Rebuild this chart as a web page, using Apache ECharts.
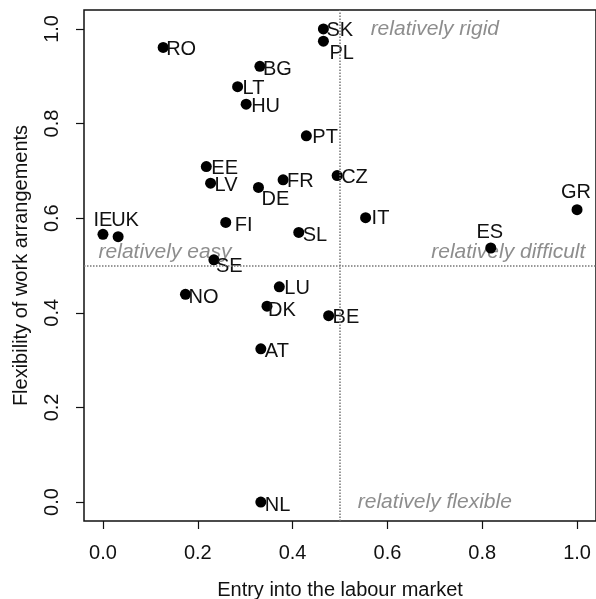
<!DOCTYPE html>
<html>
<head>
<meta charset="utf-8">
<script src="https://cdn.jsdelivr.net/npm/echarts@6/dist/echarts.min.js"></script>
<style>
html,body{margin:0;padding:0;background:#fff;}
#chart{width:596px;height:599px;}
</style>
</head>
<body>
<div id="chart"></div>
<script>
// ---- data ----
const countries = ['SK','PL','RO','BG','LT','HU','PT','EE','LV','DE','FR','CZ','IT','IE','UK','FI','SL','SE','GR','ES','LU','NO','DK','BE','AT','NL'];
const entryValues = [0.465,0.465,0.127,0.331,0.284,0.302,0.429,0.218,0.227,0.328,0.380,0.494,0.554,0.0,0.032,0.259,0.413,0.234,1.0,0.818,0.372,0.174,0.346,0.476,0.333,0.333];
const flexValues  = [1.0,0.974,0.961,0.921,0.878,0.841,0.774,0.709,0.674,0.665,0.681,0.690,0.601,0.566,0.561,0.591,0.570,0.512,0.618,0.537,0.455,0.439,0.414,0.394,0.324,0.0];
const tickValues = [0.0,0.2,0.4,0.6,0.8,1.0];
const quadrantText = ['relatively rigid','relatively easy','relatively difficult','relatively flexible'];
const quadrantX = [0.70,0.131,0.855,0.70];
const quadrantY = [1.0,0.529,0.529,0.0];
const threshold = 0.5;

// ---- label layout (pixel offsets of label from dot centre) ----
const labelPlacement = {
  SK:[3,2,'left'], PL:[6,12,'left'], RO:[3,2,'left'], BG:[3,3,'left'], LT:[5,2,'left'],
  HU:[5,2,'left'], PT:[6,2,'left'], EE:[5,2,'left'], LV:[4,2,'left'], DE:[3,12,'left'],
  FR:[4,2,'left'], CZ:[4,2,'left'], IT:[6,1,'left'], IE:[0,-14,'center'], UK:[-7,-16,'left'],
  FI:[9,3,'left'], SL:[4,3,'left'], SE:[2,7,'left'], GR:[-1,-17,'center'], ES:[-1,-16,'center'],
  LU:[5,2,'left'], NO:[3,3,'left'], DK:[1,4,'left'], BE:[4,2,'left'], AT:[4,3,'left'], NL:[4,3,'left']
};

const FONT = '"Liberation Sans", Arial, Helvetica, sans-serif';
const SYM = 11;

const pointData = countries.map((c, i) => {
  const p = labelPlacement[c];
  return {
    name: c,
    value: [entryValues[i], flexValues[i]],
    label: {
      position: [SYM/2 + p[0], SYM/2 + p[1]],
      align: p[2],
      verticalAlign: 'middle'
    }
  };
});

const quadData = quadrantText.map((t, i) => ({ name: t, value: [quadrantX[i], quadrantY[i]] }));

const chart = echarts.init(document.getElementById('chart'), null, {renderer: 'canvas'});
chart.setOption({
  animation: false,
  backgroundColor: '#fff',
  grid: {
    left: 84, top: 10, width: 512, height: 511,
    containLabel: false, outerBoundsMode: 'none',
    show: true, borderColor: '#111', borderWidth: 1.5, backgroundColor: 'transparent'
  },
  xAxis: {
    type: 'value', min: -0.04, max: 1.04,
    name: 'Entry into the labour market',
    nameLocation: 'middle', nameGap: 59,
    nameTextStyle: { fontFamily: FONT, fontSize: 20, color: '#111' },
    axisLine: { show: false, onZero: false },
    axisTick: { show: true, inside: false, length: 8, customValues: tickValues, lineStyle: { color: '#111', width: 1.2 } },
    axisLabel: { customValues: tickValues, margin: 22, fontFamily: FONT, fontSize: 20, color: '#111',
                 formatter: v => v.toFixed(1) },
    splitLine: { show: false }
  },
  yAxis: {
    type: 'value', min: -0.04, max: 1.04,
    name: 'Flexibility of work arrangements',
    nameLocation: 'middle', nameGap: 53, nameRotate: 90,
    nameTextStyle: { fontFamily: FONT, fontSize: 20, color: '#111' },
    axisLine: { show: false, onZero: false },
    axisTick: { show: true, inside: false, length: 8, customValues: tickValues, lineStyle: { color: '#111', width: 1.2 } },
    axisLabel: { customValues: tickValues, rotate: 90, margin: 22, fontFamily: FONT, fontSize: 20, color: '#111',
                 formatter: v => v.toFixed(1) },
    splitLine: { show: false }
  },
  series: [
    {
      type: 'scatter',
      name: 'quadrants',
      symbolSize: 0,
      silent: true,
      z: 1,
      data: quadData,
      label: {
        show: true, position: 'inside', formatter: '{b}',
        fontFamily: FONT, fontSize: 21, fontStyle: 'italic', color: '#707070'
      },
      markLine: {
        silent: true, symbol: 'none', animation: false,
        label: { show: false },
        lineStyle: { type: 'dotted', color: '#777', width: 1.5 },
        data: [{ xAxis: threshold }, { yAxis: threshold }]
      }
    },
    {
      type: 'scatter',
      name: 'countries',
      symbol: 'circle',
      symbolSize: SYM,
      z: 3,
      itemStyle: { color: '#000', opacity: 1 },
      data: pointData,
      label: {
        show: true, formatter: '{b}',
        fontFamily: FONT, fontSize: 20, color: '#111'
      }
    }
  ]
});
</script>
</body>
</html>
